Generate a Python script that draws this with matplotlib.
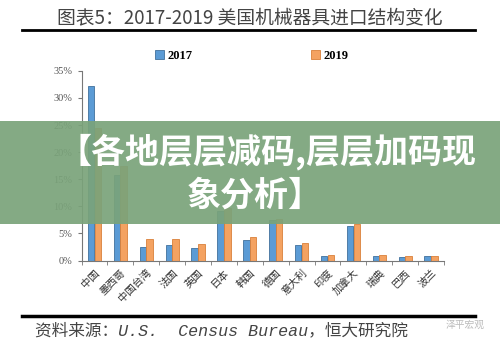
import numpy as np
import matplotlib.pyplot as plt
from matplotlib.patches import Rectangle

plt.rcParams['font.family'] = ['Noto Sans CJK SC', 'DejaVu Sans']

countries = ['中国', '墨西哥', '中国台湾', '法国', '英国', '日本', '韩国',
             '德国', '意大利', '印度', '加拿大', '瑞典', '巴西', '波兰']
share_2017 = [32.2, 15.8, 2.5, 2.8, 2.3, 9.2, 3.8, 7.4, 2.9, 0.9, 6.4, 0.8, 0.7, 0.8]
share_2019 = [24.4, 17.4, 4.0, 3.9, 3.0, 9.7, 4.4, 7.7, 3.2, 1.1, 6.7, 1.05, 0.8, 0.9]
yticks = [0, 5, 10, 15, 20, 25, 30, 35]

fig = plt.figure(figsize=(5, 3.47), dpi=100)
ax = fig.add_axes([0.163, 0.249, 0.725, 0.547])

x = np.arange(len(countries))
w = 0.25
ax.bar(x - 0.13, share_2017, w, color='#5B9BD5', edgecolor='#41719C', linewidth=0.6, label='2017')
ax.bar(x + 0.13, share_2019, w, color='#F4A261', edgecolor='#D9803A', linewidth=0.6, label='2019')

ax.set_xlim(-0.5, len(countries) - 0.5)
ax.set_ylim(0, 35)
ax.set_yticks(yticks)
ax.set_yticklabels([f'{v}%' for v in yticks], family='Liberation Serif', fontsize=7.5, color='#555555')
ax.set_xticks(x)
ax.set_xticklabels(countries, rotation=45, ha='right', rotation_mode='anchor', fontsize=7.5, color='#333333')
ax.set_xticks(np.arange(len(countries) + 1) - 0.5, minor=True)
ax.tick_params(axis='x', which='major', length=0, pad=5)
ax.tick_params(axis='x', which='minor', length=3, color='#777777', direction='out')
ax.tick_params(axis='y', length=3, color='#777777')
for s in ['top', 'right']:
    ax.spines[s].set_visible(False)
ax.spines['left'].set_color('#777777')
ax.spines['bottom'].set_color('#777777')

ax.legend(loc='center', bbox_to_anchor=(0.47, 1.077), ncol=2, frameon=False,
          columnspacing=9.5, handlelength=0.7, handleheight=0.7, handletextpad=0.3,
          prop={'family': 'Liberation Serif', 'weight': 'bold', 'size': 9})

# title and rules
fig.text(0.5, 0.948, '图表5：2017-2019 美国机械器具进口结构变化', ha='center', va='center',
         fontsize=13.5, color='#444444', fontweight='light')
fig.add_artist(plt.Line2D([0.044, 0.95], [0.913, 0.913], color='black', lw=2))
fig.add_artist(plt.Line2D([0.044, 0.95], [0.089, 0.089], color='black', lw=2.5))
fig.text(0.07, 0.048, '资料来源：U.S.  Census Bureau，恒大研究院', ha='left', va='center',
         fontsize=12, style='italic', color='#444444',
         family=['Liberation Mono', 'Noto Sans CJK SC'])
fig.text(0.97, 0.065, '泽平宏观', ha='right', va='center', fontsize=7, color='#bbbbbb')

# overlay banner
fig.add_artist(Rectangle((0, 0.3545), 1, 0.2965, transform=fig.transFigure,
                         facecolor='#7AA37A', alpha=0.92, edgecolor='none'))
fig.text(0.535, 0.562, '【各地层层减码,层层加码现', ha='center', va='center',
         fontsize=24.5, fontweight='heavy', color='white')
fig.text(0.51, 0.438, '象分析】', ha='center', va='center',
         fontsize=24.5, fontweight='heavy', color='white')

fig.savefig('out.png', dpi=100)
